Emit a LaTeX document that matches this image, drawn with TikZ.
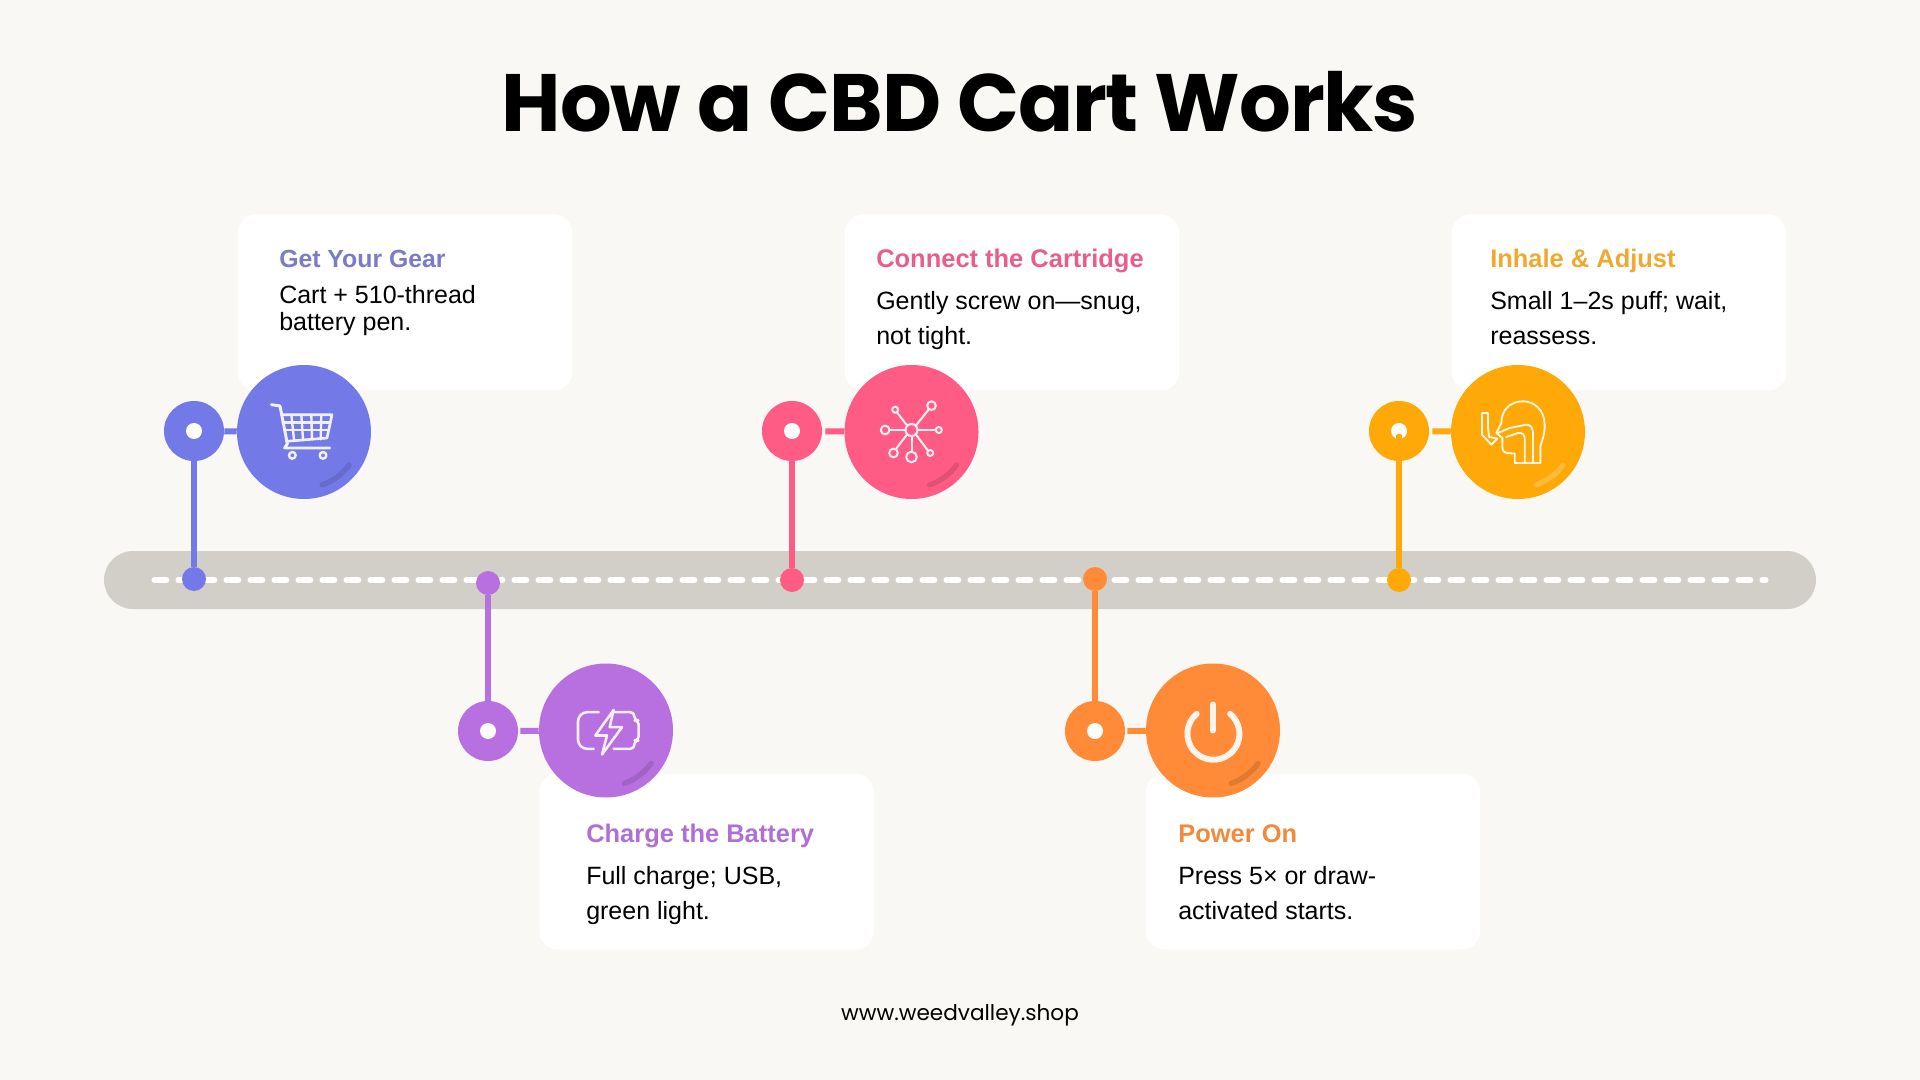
\documentclass[tikz,border=0pt]{standalone}
\usepackage{fontspec}
\setmainfont{Liberation Sans}
\newfontfamily\headfont[LetterSpace=-1.4]{Poppins}
\newfontfamily\webfont{Poppins}

\definecolor{paper}{HTML}{FAF8F5}
\definecolor{trackgray}{HTML}{D2CFC9}
\definecolor{indigo}{HTML}{7479E8}
\definecolor{rose}{HTML}{FF5C85}
\definecolor{violet}{HTML}{B86FE0}
\definecolor{tangerine}{HTML}{FF8B38}
\definecolor{amber}{HTML}{FFA908}
\definecolor{indigotext}{HTML}{7B7BC8}
\definecolor{rosetext}{HTML}{E85D8E}
\definecolor{violettext}{HTML}{B06FD8}
\definecolor{tangerinetext}{HTML}{F08A3C}
\definecolor{ambertext}{HTML}{F0A92E}

\tikzset{
  track/.style={fill=trackgray,rounded corners=21.75pt,minimum width=1284pt,minimum height=43.5pt,inner sep=0},
  trackdash/.style={white!85!paper,line width=4.5pt,line cap=round,dash pattern=on 9pt off 9pt,shorten <=38pt,shorten >=38pt},
  card/.style={fill=white,rounded corners=13.5pt,minimum width=250.5pt,minimum height=132pt,inner sep=0},
  hub/.style={circle,minimum size=45pt,inner sep=0},
  hole/.style={circle,fill=white,minimum size=12pt,inner sep=0},
  badge/.style={circle,minimum size=100.5pt,inner sep=0},
  pin/.style={circle,minimum size=18pt,inner sep=0},
  link/.style={line width=4.5pt},
  stem/.style={line width=4.5pt},
  gloss/.style={line width=4pt,line cap=round},
  ink/.style={white!90!#1,line width=1.5pt,line join=round,line cap=round},
  cardhead/.style={anchor=base west,inner sep=0,font=\fontsize{19.1}{23}\selectfont\bfseries},
  cardbody/.style={anchor=north west,inner sep=0,align=left,font=\fontsize{18.75}{26.25}\selectfont},
}

\newcommand\glossarc[2]{\draw[gloss,#2] ([shift={(18,53)}]#1.center) arc[start angle=71,end angle=36,radius=56];}

\begin{document}
\begin{tikzpicture}[x=.75pt,y=-.75pt]

\useasboundingbox (0,0) rectangle (1920,1080);
\fill[paper] (0,0) rectangle (1920,1080);

\node[anchor=base,inner sep=0,font=\fontsize{61}{70}\headfont\bfseries] (title) at (960,132) {How a CBD Cart Works};
\node[anchor=base,inner sep=0,font=\fontsize{16.2}{20}\webfont] (site) at (960,1020) {www.weedvalley.shop};

\node[track] (track) at (960,580) {};
\draw[trackdash] (track.west) -- (track.east);

%% cards
\node[card] (gearcard)    at (405,302.5) {};
\node[card] (cartcard)    at (1012,302.5) {};
\node[card] (inhalecard)  at (1619,302.5) {};
\node[card] (chargecard)  at (706.5,861.5) {};
\node[card] (powercard)   at (1313,861.5) {};

\node[cardhead,text=indigotext,font=\fontsize{18.6}{23}\selectfont\bfseries] (gearhead) at (279,268) {Get Your Gear};
\node[cardbody,font=\fontsize{18.75}{20.5}\selectfont] (gearbody) at (279,285) {Cart + 510-thread\\battery pen.};
\node[cardhead,text=rosetext] (carthead) at (876,268) {Connect the Cartridge};
\node[cardbody] (cartbody) at (876,291) {Gently screw on—snug,\\not tight.};
\node[cardhead,text=ambertext] (inhalehead) at (1490,268) {Inhale \& Adjust};
\node[cardbody] (inhalebody) at (1490,291) {Small 1–2s puff; wait,\\reassess.};
\node[cardhead,text=violettext] (chargehead) at (586,842) {Charge the Battery};
\node[cardbody] (chargebody) at (586,866) {Full charge; USB,\\green light.};
\node[cardhead,text=tangerinetext] (powerhead) at (1178,842) {Power On};
\node[cardbody] (powerbody) at (1178,866) {Press 5× or draw-\\activated starts.};

%% upper steps
\node[hub,fill=indigo] (geardot) at (194,431) {};
\node[badge,fill=indigo] (gearbadge) at (304,432) {};
\node[pin,fill=indigo] (gearpin) at (194,579) {};
\draw[link,indigo] (geardot) -- (gearbadge);
\draw[stem,indigo] (geardot) -- (gearpin);
\node[hole] (gearhole) at (geardot) {};
\glossarc{gearbadge}{indigo!88!black}

\node[hub,fill=rose] (cartdot) at (792,431) {};
\node[badge,fill=rose] (cartbadge) at (911.5,432) {};
\node[pin,fill=rose] (cartpin) at (792,580) {};
\draw[link,rose,shorten <=2.25pt] (cartdot) -- (cartbadge);
\draw[stem,rose] (cartdot) -- (cartpin);
\node[hole] (carthole) at (cartdot) {};
\glossarc{cartbadge}{rose!88!black}

\node[hub,fill=amber] (inhaledot) at (1399,431) {};
\node[badge,fill=amber] (inhalebadge) at (1518,432) {};
\node[pin,fill=amber] (inhalepin) at (1399,580) {};
\draw[link,amber,shorten <=2.25pt] (inhaledot) -- (inhalebadge);
\draw[stem,amber] (inhaledot) -- (inhalepin);
\node[hole] (inhalehole) at (inhaledot) {};
\fill[amber,rounded corners=1pt] (1396,434) rectangle (1402,441);
\glossarc{inhalebadge}{amber!80!white}

%% lower steps
\node[hub,fill=violet] (chargedot) at (488,731) {};
\node[badge,fill=violet] (chargebadge) at (606,730.5) {};
\node[pin,fill=violet] (chargepin) at (488,583) {};
\draw[link,violet,shorten <=1.5pt] (chargedot) -- (chargebadge);
\draw[stem,violet] (chargedot) -- (chargepin);
\node[hole] (chargehole) at (chargedot) {};
\glossarc{chargebadge}{violet!88!black}

\node[hub,fill=tangerine] (powerdot) at (1095,731) {};
\node[badge,fill=tangerine] (powerbadge) at (1213,730.5) {};
\node[pin,fill=tangerine] (powerpin) at (1095,579) {};
\draw[link,tangerine,shorten <=1.5pt] (powerdot) -- (powerbadge);
\draw[stem,tangerine] (powerdot) -- (powerpin);
\node[hole] (powerhole) at (powerdot) {};
\glossarc{powerbadge}{tangerine!88!black}

%% icons, in thirds of a pixel from the badge centre
\begin{scope}[shift={(gearbadge.center)},x=.25pt,y=-.25pt]
\draw[ink=indigo,line width=2.2pt] (-98,-82) -- (-72,-78) -- (-50,35) -- (-58,48) -- (77,48);
\draw[ink=indigo,line width=2pt] (-68,-52) -- (84,-52) -- (69,18) -- (-53,28);
\draw[ink=indigo,line width=1.8pt] (-64,-29) -- (79,-29);
\draw[ink=indigo,line width=1.8pt] (-59,-6) -- (74,-6);
\foreach \gx/\gxb in {-38/-30,-8/-3,22/24,52/50}
  \draw[ink=indigo,line width=1.8pt] (\gx,-52) -- (\gxb,22);
\draw[ink=indigo,line width=1.8pt] (-35,70) circle (10);
\draw[ink=indigo,line width=1.8pt] (57,70) circle (10);
\end{scope}

\begin{scope}[shift={(cartbadge.center)},x=.25pt,y=-.25pt]
\draw[ink=rose] (0,-6) circle (18);
\draw[ink=rose] (-13,-19) -- (-43,-58);
\draw[ink=rose] (13,-19) -- (52,-68);
\draw[ink=rose] (-18,-6) -- (-66,-6);
\draw[ink=rose] (18,-6) -- (73,-6);
\draw[ink=rose] (-13,7) -- (-46,50);
\draw[ink=rose] (0,12) -- (0,59);
\draw[ink=rose] (13,7) -- (50,57);
\draw[ink=rose] (-49,-67) circle (9);
\draw[ink=rose] (60,-79) circle (13);
\draw[ink=rose] (-79,-6) circle (13);
\draw[ink=rose] (82,-6) circle (9);
\draw[ink=rose] (-54,63) circle (13);
\draw[ink=rose] (0,75) circle (16);
\draw[ink=rose] (56,63) circle (9);
\end{scope}

\begin{scope}[shift={(inhalebadge.center)},x=.25pt,y=-.25pt]
\draw[ink=amber,line width=1.4pt] (67,93) -- (67,43) .. controls (72,25) and (80,10) .. (80,-20)
  .. controls (80,-65) and (50,-92) .. (15,-92) .. controls (-25,-92) and (-50,-65) .. (-50,-27)
  -- (-65,3) -- (-47,18) -- (-47,45) .. controls (-47,58) and (-40,63) .. (-30,63)
  -- (-10,65) -- (-10,93) -- cycle;
\draw[ink=amber,line width=1.4pt] (-60,3) -- (-25,-12) -- (25,-22) .. controls (40,-22) and (45,-10) .. (45,5) -- (45,93);
\draw[ink=amber,line width=1.4pt] (-35,15) -- (0,3) .. controls (15,0) and (20,10) .. (20,20) -- (20,93);
\draw[ink=amber,line width=1.4pt] (-87,15) -- (-90,-15) -- (-90,-57) -- (-108,-57) -- (-108,8) -- (-80,38) -- (-62,20) -- (-87,15);
\end{scope}

\begin{scope}[shift={(chargebadge.center)},x=.25pt,y=-.25pt]
\draw[ink=violet,line width=1.9pt,rounded corners=7pt] (-22,-55) -- (-84,-55) -- (-84,55) -- (-37,55);
\draw[ink=violet,line width=1.9pt,rounded corners=3pt] (23,-55) -- (85,-55) -- (85,-30) -- (98,-30) -- (98,30) -- (85,30) -- (85,55) -- (23,55);
\draw[ink=violet,line width=1.9pt] (23,-62) -- (-32,15) -- (3,15) -- (-12,72) -- (48,-10) -- (11,-10) -- cycle;
\end{scope}

\begin{scope}[shift={(powerbadge.center)},x=.25pt,y=-.25pt]
\draw[ink=tangerine,line width=4.5pt] (-49,-50) arc[start angle=-130,end angle=-410,radius=78];
\draw[ink=tangerine,line width=4.5pt] (0,-78) -- (0,0);
\end{scope}

\end{tikzpicture}
\end{document}
